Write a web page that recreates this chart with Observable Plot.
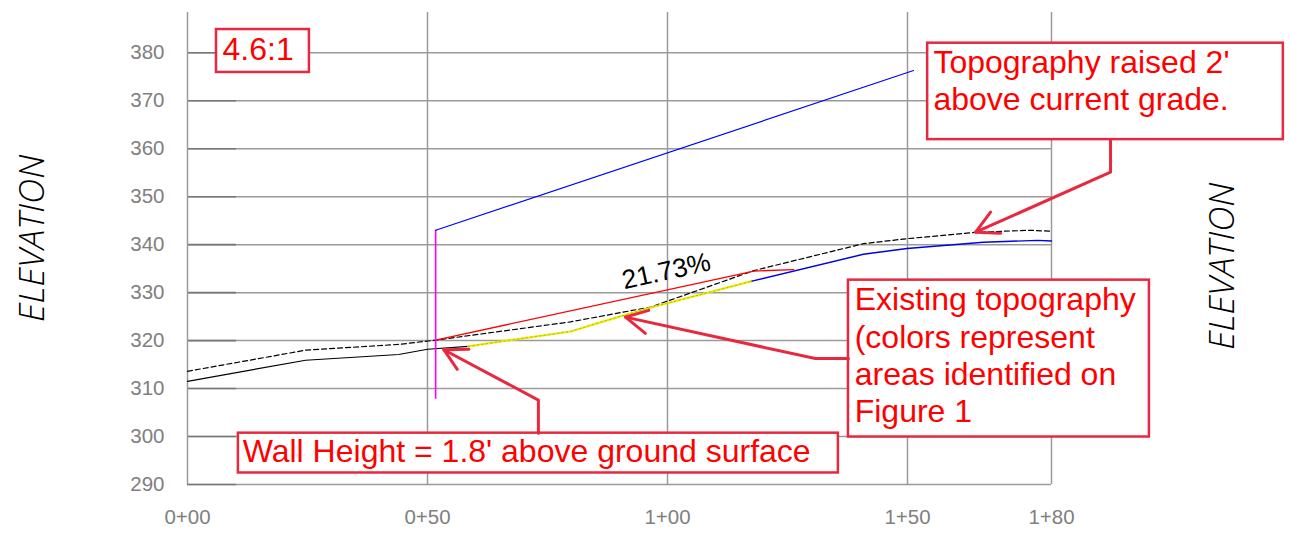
<!DOCTYPE html>
<html>
<head>
<meta charset="utf-8">
<script src="https://cdn.jsdelivr.net/npm/d3@7"></script>
<script src="https://cdn.jsdelivr.net/npm/@observablehq/plot@0.6"></script>
<style>
  html, body { margin: 0; padding: 0; background: #fff; }
  #chart svg { display: block; }
</style>
</head>
<body>
<div id="chart"></div>
<script>
// ---- Axis ticks ----
const stationTicks = [0, 50, 100, 150, 180];
const elevationTicks = [290, 300, 310, 320, 330, 340, 350, 360, 370, 380];

// ---- Series: [station (ft), elevation (ft)] ----
const groundBlack = [[0, 311.5], [24.6, 315.9], [44, 317.1], [50, 318.2], [58.5, 318.8]];
const groundYellow = [[58.5, 318.8], [67.3, 320.1], [79.8, 321.9], [86, 323.8], [95.8, 326.7], [117.6, 332.4]];
const groundBlue = [[117.6, 332.4], [140.8, 338.0], [149.9, 339.2], [165.8, 340.5], [177.1, 340.9], [180, 340.75]];
const raisedTopo = [[0, 313.6], [24.6, 318.0], [44, 319.2], [51.7, 320.1], [79.8, 323.9], [96.5, 327.0], [118, 334.6], [140.8, 340.2], [149.9, 341.25], [164.5, 342.6], [175.6, 343.0], [180, 342.8]];
const proposedGrade = [[51.7, 320.1], [118, 334.5], [126.3, 334.8]];
const wallLine = [[51.7, 308.0], [51.7, 343.0]];
const wallTopLine = [[51.7, 343.0], [151.25, 376.3]];

// ---- Slope label ----
const slopeLabel = [{text: "21.73%", st: 91.0, el: 330.7}];

// ---- Axis titles ----
const axisTitles = [{text: "ELEVATION", st: -32.3, el: 341.3}, {text: "ELEVATION", st: 215.6, el: 335.5}];

// ---- Callout boxes (data coords) ----
const noteBoxes = [
  {x1: 6.04, x2: 25.4, y1: 375.9, y2: 384.85},
  {x1: 154.2, x2: 228.3, y1: 361.9, y2: 382.0},
  {x1: 137.7, x2: 200.4, y1: 299.9, y2: 332.6},
  {x1: 10.6, x2: 135.6, y1: 292.4, y2: 300.7}
];
const noteLines = [
  {text: "4.6:1", st: 7.3, el: 378.5},
  {text: "Topography raised 2'", st: 155.4, el: 375.75},
  {text: "above current grade.", st: 155.4, el: 368.0},
  {text: "Existing topography", st: 139.0, el: 326.3},
  {text: "(colors represent", st: 139.0, el: 318.5},
  {text: "areas identified on", st: 139.0, el: 310.7},
  {text: "Figure 1", st: 139.0, el: 303.0},
  {text: "Wall Height = 1.8' above ground surface", st: 11.5, el: 294.6}
];
const leaderLines = [
  {id: "topo", st: 192.3, el: 361.9}, {id: "topo", st: 192.3, el: 355.1}, {id: "topo", st: 164.2, el: 342.6},
  {id: "exist", st: 137.7, el: 316.25}, {id: "exist", st: 130.8, el: 316.25}, {id: "exist", st: 91.25, el: 324.9},
  {id: "wall", st: 73.1, el: 300.7}, {id: "wall", st: 73.1, el: 307.6}, {id: "wall", st: 53.4, el: 318.1}
];
const arrowHeads = [
  {id: "topo", st: 167.3, el: 346.8}, {id: "topo", st: 164.2, el: 342.6}, {id: "topo", st: 169.4, el: 342.4},
  {id: "exist", st: 96.1, el: 326.3}, {id: "exist", st: 91.25, el: 324.9}, {id: "exist", st: 95.4, el: 321.5},
  {id: "wall", st: 58.6, el: 318.2}, {id: "wall", st: 53.4, el: 318.1}, {id: "wall", st: 56.2, el: 314.0}
];

const gridColor = "#9a9a9a";
const calloutColor = "#e8283f";
const textFont = "'Liberation Sans', Arial, sans-serif";

const fmtStation = d => `${Math.floor(d / 100)}+${String(d % 100).padStart(2, "0")}`;

const chart = Plot.plot({
  width: 1290,
  height: 533,
  marginLeft: 187,
  marginRight: 239,
  marginTop: 12,
  marginBottom: 49,
  style: {fontFamily: textFont, fontSize: "20.5px", color: "#808080", background: "#fff", overflow: "visible"},
  x: {domain: [0, 180], ticks: stationTicks, tickFormat: fmtStation, tickSize: 0, tickPadding: 25, label: null},
  y: {domain: [290, 388.4], ticks: elevationTicks, tickSize: 0, tickPadding: 23, label: null},
  marks: [
    Plot.ruleY(elevationTicks, {x1: 0, x2: 180, stroke: gridColor, strokeWidth: 1.5}),
    Plot.ruleY(elevationTicks, {x1: 0, x2: 10.2, stroke: "#777", strokeWidth: 1.6}),
    Plot.ruleX(stationTicks, {y1: 290, y2: 388.4, stroke: gridColor, strokeWidth: 1.5}),
    Plot.line(raisedTopo, {stroke: "#000", strokeWidth: 1.2, strokeDasharray: "5,3"}),
    Plot.line(groundBlack, {stroke: "#000", strokeWidth: 1.2}),
    Plot.line(groundYellow, {stroke: "#eded00", strokeWidth: 2.2}),
    Plot.line(groundYellow, {stroke: "#555", strokeWidth: 0.6, strokeDasharray: "1.5,3", strokeOpacity: 0.6}),
    Plot.line(groundBlue, {stroke: "#0000e0", strokeWidth: 1.4}),
    Plot.line(proposedGrade, {stroke: "#ff0000", strokeWidth: 1.3}),
    Plot.line(wallLine, {stroke: "#ff00ff", strokeWidth: 1.6}),
    Plot.line(wallTopLine, {stroke: "#0000ff", strokeWidth: 1.2}),
    Plot.text(slopeLabel, {x: "st", y: "el", text: "text", rotate: -12.4, textAnchor: "start", lineAnchor: "bottom", fontSize: 26.5, fill: "#000"}),
    Plot.text(axisTitles, {x: "st", y: "el", text: "text", rotate: -90, textAnchor: "middle", lineAnchor: "middle", fontSize: 35, fontStyle: "italic", fontWeight: 300, fontFamily: "'Open Sans', sans-serif", fill: "#000"}),
    Plot.rect(noteBoxes, {x1: "x1", x2: "x2", y1: "y1", y2: "y2", fill: "#fff", stroke: calloutColor, strokeWidth: 2.5}),
    Plot.text(noteLines, {x: "st", y: "el", text: "text", textAnchor: "start", lineAnchor: "bottom", fontSize: 32, fill: "#ff0000"}),
    Plot.line(leaderLines, {x: "st", y: "el", z: "id", stroke: calloutColor, strokeWidth: 3}),
    Plot.line(arrowHeads, {x: "st", y: "el", z: "id", stroke: calloutColor, strokeWidth: 3})
  ]
});

document.getElementById("chart").appendChild(chart);
</script>
</body>
</html>
